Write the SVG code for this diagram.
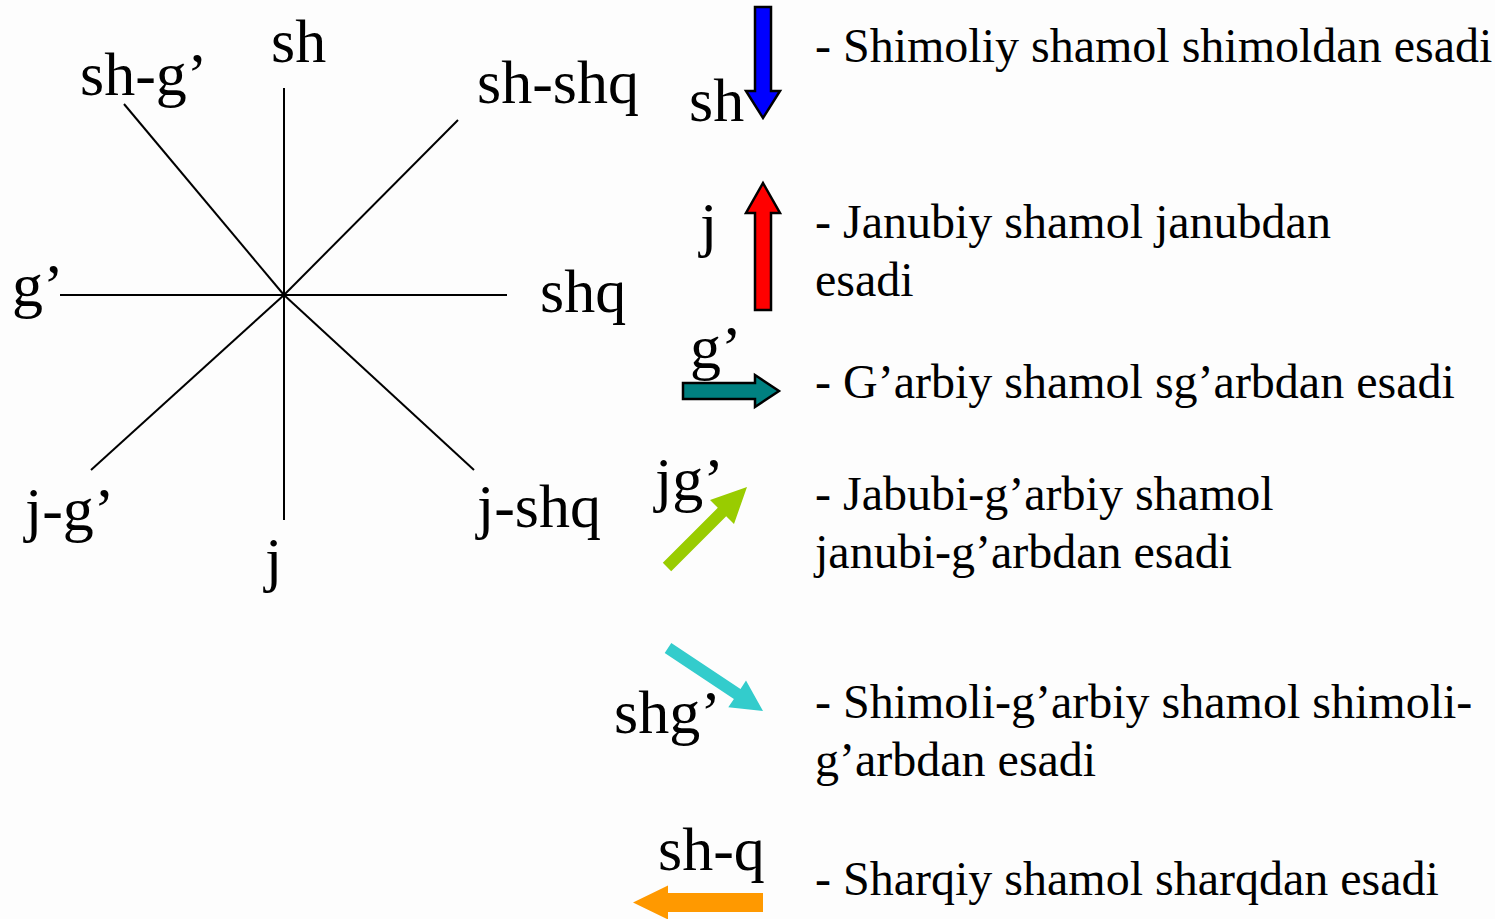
<svg xmlns="http://www.w3.org/2000/svg" width="1495" height="919" viewBox="0 0 1495 919">
<style>
text{font-family:"Liberation Serif","Times New Roman",serif;fill:#000}
.lab{font-size:62px}
.leg{font-size:48px}
.ray{stroke:#000;stroke-width:2;fill:none}
.arr{stroke:#000;stroke-width:2.5;stroke-linejoin:miter}
</style>
<rect width="1495" height="919" fill="#fdfdfd"/>
<g id="compass">
<g id="rays">
<line class="ray" x1="284" y1="88" x2="284" y2="520"/>
<line class="ray" x1="60" y1="295" x2="507" y2="295"/>
<line class="ray" x1="124" y1="104" x2="284" y2="295"/>
<line class="ray" x1="458" y1="120" x2="284" y2="295"/>
<line class="ray" x1="91" y1="470" x2="284" y2="295"/>
<line class="ray" x1="474" y1="470" x2="284" y2="295"/>
</g>
<g id="labels">
<text class="lab" x="271" y="62">sh</text>
<text class="lab" x="80" y="95">sh-g’</text>
<text class="lab" x="477" y="103">sh-shq</text>
<text class="lab" x="12" y="306">g’</text>
<text class="lab" x="540" y="312">shq</text>
<text class="lab" x="25" y="530">j-g’</text>
<text class="lab" x="477" y="527">j-shq</text>
<text class="lab" x="265" y="580">j</text>
</g>
</g>
<g id="legend-north">
<polygon class="arr" fill="#0000ff" points="755,7 771,7 771,91 780,91 763,118 746,91 755,91"/>
<text class="lab" x="689" y="121">sh</text>
<text class="leg" x="815" y="62">- Shimoliy shamol shimoldan esadi</text>
</g>
<g id="legend-south">
<polygon class="arr" fill="#ff0000" points="763,183 780,213 771,213 771,310 755,310 755,213 746,213"/>
<text class="lab" x="700" y="245">j</text>
<text class="leg" x="815" y="238">- Janubiy shamol janubdan</text>
<text class="leg" x="815" y="296">esadi</text>
</g>
<g id="legend-west">
<polygon class="arr" fill="#008080" points="683,383 755,383 755,375 779,391 755,407 755,399 683,399"/>
<text class="lab" x="690" y="368">g’</text>
<text class="leg" x="815" y="398">- G’arbiy shamol sg’arbdan esadi</text>
</g>
<g id="legend-southwest">
<polygon fill="#99cc00" points="747,487 734,524 726.2,516.2 671.2,571.2 662.8,562.8 717.8,507.8 710,500"/>
<text class="lab" x="655" y="500">jg’</text>
<text class="leg" x="815" y="510">- Jabubi-g’arbiy shamol</text>
<text class="leg" x="815" y="568">janubi-g’arbdan esadi</text>
</g>
<g id="legend-northwest">
<polygon fill="#33cccc" points="763,711 728.3,707.2 733.9,698.9 664.7,653 671.3,643 740.5,688.9 746,680.6"/>
<text class="lab" x="614" y="733">shg’</text>
<text class="leg" x="815" y="718">- Shimoli-g’arbiy shamol shimoli-</text>
<text class="leg" x="815" y="776">g’arbdan esadi</text>
</g>
<g id="legend-east">
<polygon fill="#ff9900" points="633,902.5 668,885.5 668,893 763,893 763,912 668,912 668,919.5"/>
<text class="lab" x="658" y="870">sh-q</text>
<text class="leg" x="815" y="895">- Sharqiy shamol sharqdan esadi</text>
</g>
</svg>
